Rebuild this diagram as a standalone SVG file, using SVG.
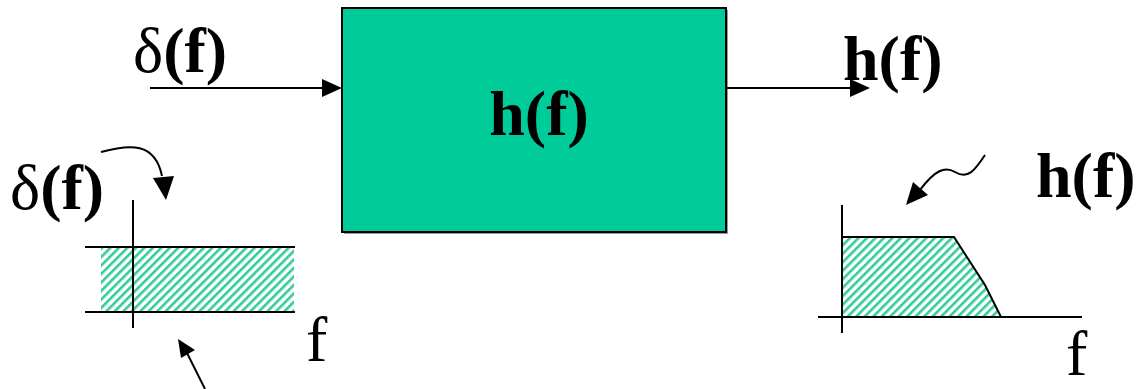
<svg xmlns="http://www.w3.org/2000/svg" width="1139" height="389" viewBox="0 0 1139 389">
<style>
.t{font-family:"Liberation Serif","Times New Roman",serif;fill:#000;font-size:64px}
.b{font-weight:bold}
.ln{stroke:#000;stroke-width:2;fill:none}
</style>
<defs>
<pattern id="hatch" patternUnits="userSpaceOnUse" width="6" height="6" patternTransform="rotate(45)">
<rect width="6" height="6" fill="#fff"/>
<rect x="0" y="0" width="2.6" height="6" fill="#33cc99"/>
</pattern>
</defs>
<rect width="1139" height="389" fill="#fff"/>
<g id="box">
<rect x="344" y="10" width="384" height="224" fill="#999"/>
<rect x="342" y="8" width="384" height="224" fill="#00cc99" stroke="#000" stroke-width="2"/>
<text class="t b" x="539" y="135" text-anchor="middle">h(f)</text>
</g>
<g id="input-label">
<text class="t" x="133" y="72">δ<tspan class="b">(f)</tspan></text>
</g>
<g id="output-label">
<text class="t b" x="843" y="80">h(f)</text>
</g>
<g id="delta-plot">
<rect x="101" y="248" width="193" height="63" fill="url(#hatch)"/>
<line class="ln" x1="85" y1="247" x2="295" y2="247"/>
<line class="ln" x1="85" y1="312" x2="295" y2="312"/>
<line class="ln" x1="133" y1="200" x2="133" y2="328"/>
<text class="t" x="10" y="209">δ<tspan class="b">(f)</tspan></text>
<text class="t" x="306" y="361">f</text>
</g>
<g id="h-plot">
<path d="M842,237 L954,237 L985,285 L1001,317 L842,317 z" fill="url(#hatch)"/>
<path class="ln" d="M842,237 L954,237 L985,285 L1001,317"/>
<line class="ln" x1="818" y1="317" x2="1082" y2="317"/>
<line class="ln" x1="842" y1="205" x2="842" y2="333"/>
<text class="t b" x="1036" y="197">h(f)</text>
<text class="t" x="1066" y="375">f</text>
</g>
<g id="connectors">
<path d="M150,88 L322,88" class="ln"/>
<path d="M322,79 L342,88 L322,97 z" fill="#000"/>
<path d="M726,88 L850,88" class="ln"/>
<path d="M850,79 L870,88 L850,97 z" fill="#000"/>
<path d="M101,152 C130,144 155,142 162,176" class="ln"/>
<path d="M153,178 L166,200 L174,176 z" fill="#000"/>
<path d="M205,389 L187,353" class="ln"/>
<path d="M178,339 L195,350 L181,358 z" fill="#000"/>
<path d="M985,155 C975,170 968,180 955,172 C945,166 935,170 920,190" class="ln"/>
<path d="M906,205 L913,182 L928,195 z" fill="#000"/>
</g>
</svg>
